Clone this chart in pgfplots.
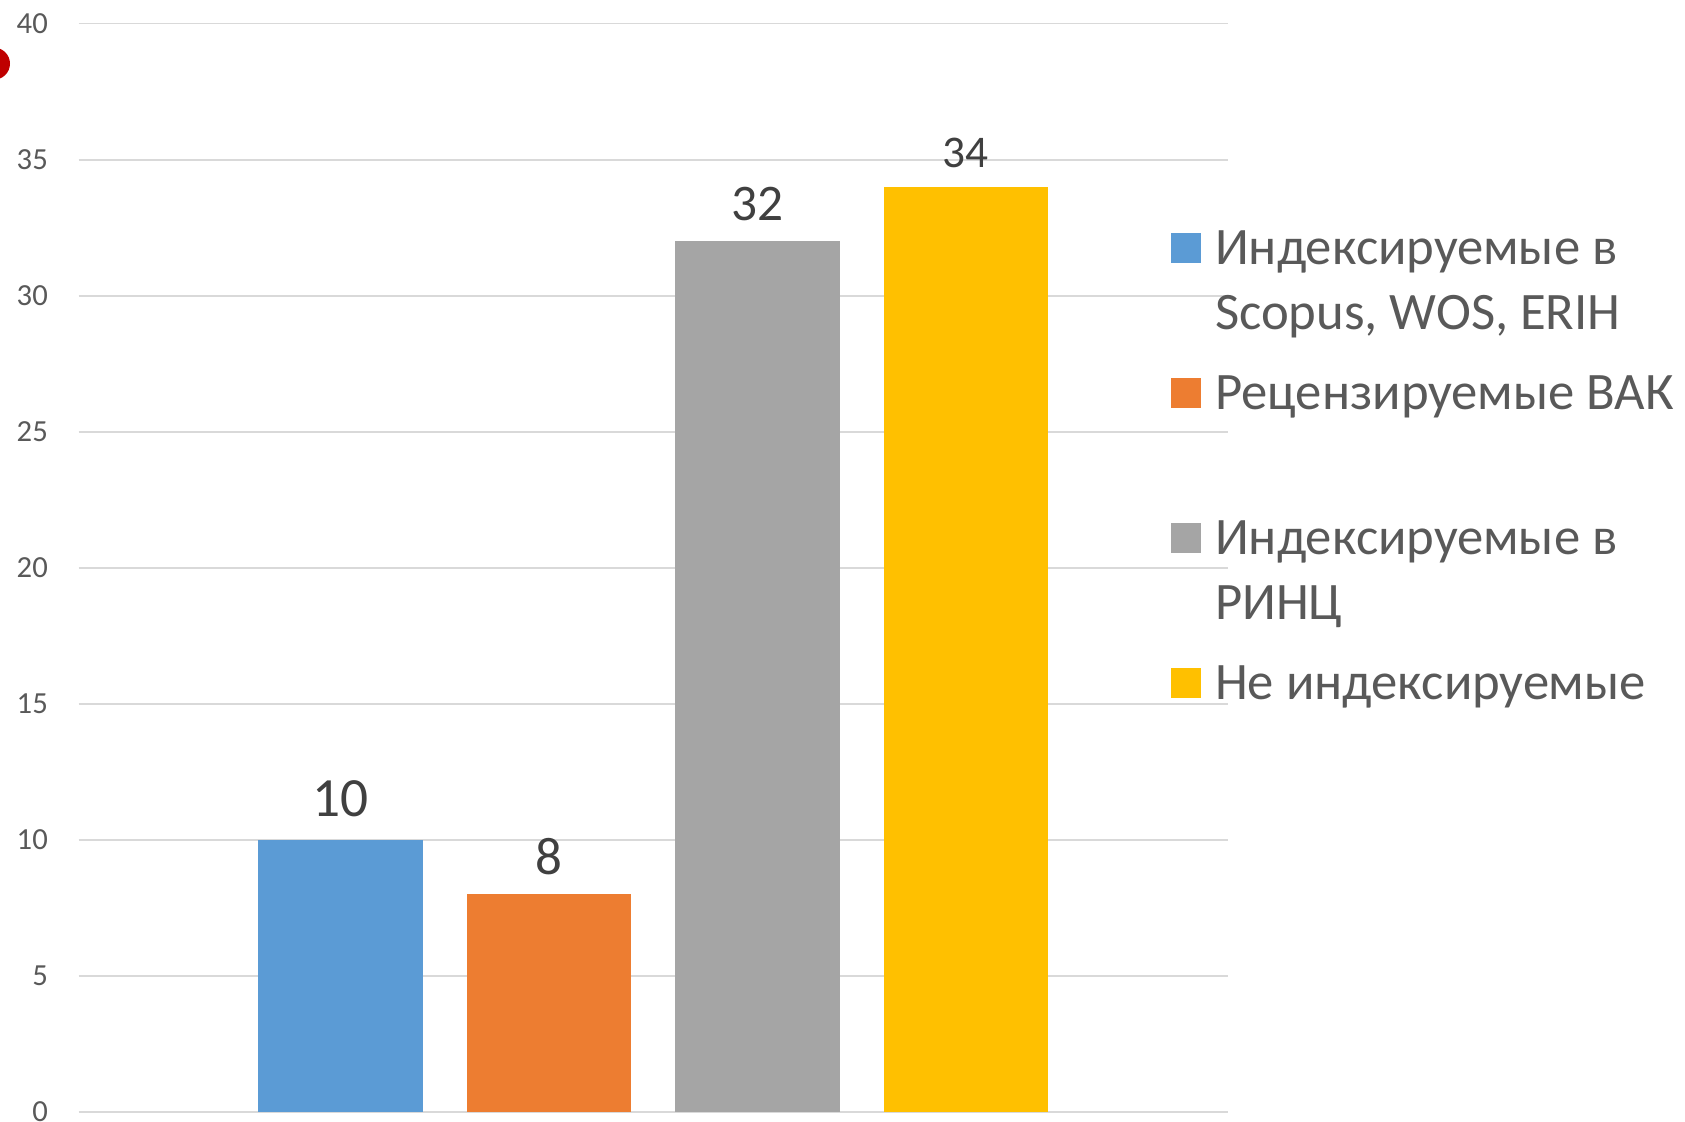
\documentclass[border=0pt]{standalone}
\usepackage{pgfplots}
\pgfplotsset{compat=1.18}
\usepackage{fontspec}
\setmainfont{Carlito}
\definecolor{c1}{HTML}{5B9BD5}
\definecolor{c2}{HTML}{ED7D31}
\definecolor{c3}{HTML}{A5A5A5}
\definecolor{c4}{HTML}{FFC000}
\definecolor{txt}{HTML}{595959}
\definecolor{lbl}{HTML}{404040}
\definecolor{grd}{HTML}{D9D9D9}
\pgfplotsset{
  sq/.style={legend image code/.code={\fill[#1] (0pt,-3.25pt) rectangle (8.7pt,5.45pt);}},
  nolg/.style={legend image code/.code={}},
}
\begin{document}
\begin{tikzpicture}
\useasboundingbox (0,0) rectangle (505.5pt,336.6pt);
\fill[red!75!black] (-1.8pt,317.5pt) circle (4.8pt);
\begin{axis}[
    scale only axis,
    width=344.85pt, height=326.5pt,
    at={(23.55pt,3pt)}, anchor=south west,
    xmin=-0.258, xmax=5.258,
    ymin=0, ymax=40,
    ytick={0,5,...,40},
    xtick=\empty,
    ymajorgrids,
    grid style={grd, line width=0.5pt},
    axis line style={draw=none},
    major tick length=0pt,
    /pgf/number format/assume math mode=true,
    yticklabel style={font=\fontsize{9.2}{11}\selectfont, text=txt, inner sep=0pt, anchor=east, xshift=-9pt},
    legend cell align=left,
    legend style={draw=none, fill=none, at={(0.9496,0.8143)}, anchor=north west,
      inner sep=0pt, column sep=4.2pt, row sep=6.75pt,
      font=\fontsize{15.8}{18}\selectfont, text=txt,
      nodes={inner sep=0pt, text height=11.5pt, text depth=3.5pt}},
    every node near coord/.append style={text=lbl, inner sep=0pt, anchor=south},
  ]
  \addplot[ybar, bar width=0.79, bar shift=0pt, fill=c1, draw=none, forget plot,
    nodes near coords, nodes near coords style={font=\fontsize{16.6}{18}\selectfont, yshift=6.7pt}]
    coordinates {(1,10)};
  \addplot[ybar, bar width=0.79, bar shift=0pt, fill=c2, draw=none, forget plot,
    nodes near coords, nodes near coords style={font=\fontsize{15.9}{18}\selectfont, yshift=5.6pt}]
    coordinates {(2,8)};
  \addplot[ybar, bar width=0.79, bar shift=0pt, fill=c3, draw=none, forget plot,
    nodes near coords, nodes near coords style={font=\fontsize{15.4}{18}\selectfont, yshift=6pt}]
    coordinates {(3,32)};
  \addplot[ybar, bar width=0.79, bar shift=0pt, fill=c4, draw=none, forget plot,
    nodes near coords, nodes near coords style={font=\fontsize{13.6}{16}\selectfont, yshift=5.6pt}]
    coordinates {(4,34)};
  \addlegendimage{sq=c1}\addlegendentry{Индексируемые в}
  \addlegendimage{nolg}\addlegendentry{\raisebox{2.25pt}{Scopus, WOS, ERIH}}
  \addlegendimage{sq=c2}\addlegendentry{Рецензируемые ВАК}
  \addlegendimage{nolg}\addlegendentry{}
  \addlegendimage{sq=c3}\addlegendentry{Индексируемые в}
  \addlegendimage{nolg}\addlegendentry{\raisebox{2.25pt}{РИНЦ}}
  \addlegendimage{sq=c4}\addlegendentry{Не индексируемые}
\end{axis}
\end{tikzpicture}
\end{document}
